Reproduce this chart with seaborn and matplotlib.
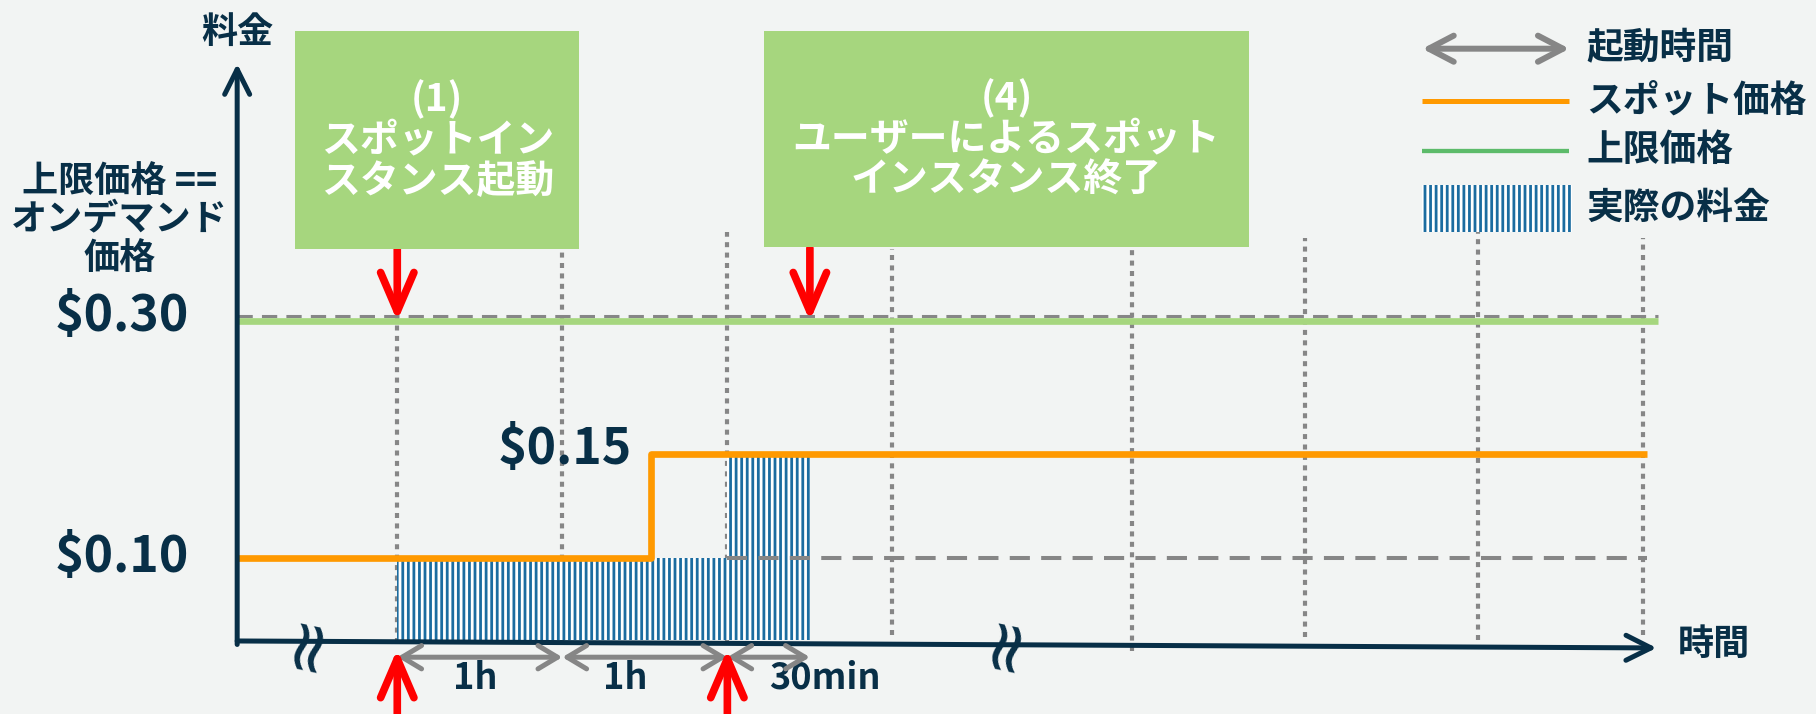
import numpy as np
import matplotlib
matplotlib.use('Agg')
import matplotlib.pyplot as plt
import matplotlib.transforms as mtransforms
from matplotlib.patches import Rectangle
import seaborn as sns

# time in hours (spot instance launch = 0), prices in $/h
spot_time = [-0.97, 1.54, 7.57]
spot_price = [0.10, 0.15, 0.15]
limit_time = [-0.97, 7.64]
limit_price = [0.30, 0.30]
bill_start = [0.0, 2.0]
bill_hours = [2.0, 0.5]
bill_price = [0.10, 0.15]
grid_times = [0, 1, 2, 3, 4.45, 5.5, 6.55, 7.55]
launch_times = [0.0, 2.0]
box_event_times = [0.0, 2.5]
span_start = [0.0, 1.0, 2.0]
span_end = [1.0, 2.0, 2.5]
span_labels = ['1h', '1h', '30min']
break_times = [-0.55, 3.68]
price_labels = ['$0.30', '$0.15', '$0.10']
box_texts = ['(1)\nスポットイン\nスタンス起動',
             '(4)\nユーザーによるスポット\nインスタンス終了']
legend_labels = ['起動時間', 'スポット価格', '上限価格', '実際の料金']

NAVY = '#082f47'
BG = '#f2f4f3'
GREY = '#868686'
ORANGE = '#ff9900'
LIGHT_GREEN = '#a6d67e'
LEG_GREEN = '#5dbb6a'
HATCH = '#1b6ca0'
RED = '#ff0000'

sns.set_theme(style='white')
plt.rcParams['font.family'] = ['Noto Sans CJK JP', 'DejaVu Sans']
plt.rcParams['font.weight'] = 'bold'
plt.rcParams['hatch.linewidth'] = 2.0

# the price axis is a schematic, not linear
price_knots = [-1.0, 0.0, 0.10, 0.15, 0.30, 1.0]
level_knots = [-710.0, 0.0, 71.0, 160.0, 275.0, 812.0]


def fwd(v):
    return np.interp(v, price_knots, level_knots)


def inv(v):
    return np.interp(v, level_knots, price_knots)


def lv(px):
    # vertical position given as pixels from top of the 616px-high layout
    return float(inv(552 - px))


fig = plt.figure(figsize=(18.16, 7.14), dpi=100, facecolor=BG)
ax = fig.add_axes([0, 0, 1, 1])
ax.set_yscale('function', functions=(fwd, inv))
ax.set_xlim(-2.407, 8.596)
ax.set_ylim(lv(616), lv(0))
ax.set_axis_off()

AXIS_X = -0.97

# vertical dotted grid
grid_tops = [215, 215, 200, 215, 210, 205, 200, 205]
grid_bottoms = [555, 555, 555, 548, 562, 550, 552, 548]
for t, top, bot in zip(grid_times, grid_tops, grid_bottoms):
    ax.plot([t, t], [lv(bot), lv(top)], color=GREY, lw=3.0,
            ls=(0, (1.2, 1.3)), zorder=1)

# actual charge
ax.bar(bill_start, bill_price, width=bill_hours, align='edge', color='white',
       edgecolor=HATCH, hatch='|||', linewidth=0, zorder=2)

# limit price and on-demand reference
sns.lineplot(x=limit_time, y=limit_price, color=LIGHT_GREEN, lw=4.8, ax=ax,
             legend=False, zorder=3, solid_capstyle='butt')
ax.plot(limit_time, limit_price, color=GREY, lw=2.2, ls=(0, (5, 3)), zorder=3,
        transform=mtransforms.offset_copy(ax.transData, fig=fig, y=5, units='dots'))
ax.plot([bill_start[1], spot_time[-1]], [bill_price[0], bill_price[0]],
        color=GREY, lw=2.9, ls=(0, (5, 2.8)), zorder=3)

# spot price
sns.lineplot(x=spot_time, y=spot_price, drawstyle='steps-post', color=ORANGE,
             lw=4.8, ax=ax, legend=False, zorder=4, solid_capstyle='butt')

# axes arrows
axis_arrow = dict(arrowstyle='->,head_length=0.9,head_width=0.45', color=NAVY,
                  lw=3.6, shrinkA=0, shrinkB=0, mutation_scale=20,
                  capstyle='round', joinstyle='round')
ax.annotate('', xy=(AXIS_X, lv(55)), xytext=(AXIS_X, lv(556)),
            arrowprops=axis_arrow, zorder=5)
ax.annotate('', xy=(7.63, lv(559)), xytext=(AXIS_X, lv(553)),
            arrowprops=axis_arrow, zorder=5)

for t in break_times:
    ax.text(t, lv(553), '≈', rotation=78, fontsize=52, ha='center',
            va='center', color=NAVY, zorder=6, family='DejaVu Sans',
            fontweight='normal')

# red event arrows
red_arrow = dict(arrowstyle='->,head_length=1.4,head_width=0.6', color=RED,
                 lw=5.5, shrinkA=0, shrinkB=0, mutation_scale=20,
                 capstyle='round', joinstyle='round')
for t in box_event_times:
    ax.annotate('', xy=(t, limit_price[0]), xytext=(t, lv(214)),
                arrowprops=red_arrow, zorder=7)
for t in launch_times:
    ax.annotate('', xy=(t, lv(560)), xytext=(t, lv(650)),
                arrowprops=red_arrow, zorder=7, annotation_clip=False)

# running time spans
span_arrow = dict(arrowstyle='<->,head_length=0.7,head_width=0.42', color=GREY,
                  lw=3.6, shrinkA=0, shrinkB=0, mutation_scale=20,
                  capstyle='round', joinstyle='round')
for s, e in zip(span_start, span_end):
    ax.annotate('', xy=(e, lv(567)), xytext=(s, lv(567)),
                arrowprops=span_arrow, zorder=6)
for x, lab in zip([0.47, 1.38, 2.59], span_labels):
    ax.text(x, lv(585), lab, fontsize=26, ha='center', va='center', color=NAVY)

# price labels
ax.text(0.0670, 0.5568, price_labels[0], fontsize=36, ha='center', va='center',
        color=NAVY, transform=ax.transAxes)
ax.text(0.3112, 0.3701, price_labels[1], fontsize=36, ha='center', va='center',
        color=NAVY, transform=ax.transAxes)
ax.text(0.0670, 0.2192, price_labels[2], fontsize=36, ha='center', va='center',
        color=NAVY, transform=ax.transAxes)
ax.text(0.0657, 0.6916, '上限価格 ==\nオンデマンド\n価格', fontsize=26,
        ha='center', va='center', color=NAVY, linespacing=1.05,
        transform=ax.transAxes)
ax.text(0.1307, 0.9545, '料金', fontsize=26, ha='center', va='center',
        color=NAVY, transform=ax.transAxes)
ax.text(0.9439, 0.0974, '時間', fontsize=26, ha='center', va='center',
        color=NAVY, transform=ax.transAxes)

# green call-out boxes
boxes = [(0.1626, 0.6510, 0.1563, 0.3052), (0.4209, 0.6542, 0.2666, 0.3019)]
for (x0, y0, w, h), txt in zip(boxes, box_texts):
    ax.add_patch(Rectangle((x0, y0), w, h, transform=ax.transAxes,
                           facecolor=LIGHT_GREEN, edgecolor='none', zorder=8))
    ax.text(x0 + w / 2, y0 + h / 2, txt, fontsize=28, ha='center', va='center',
            color='white', linespacing=1.05, transform=ax.transAxes, zorder=9)

# legend
lx0, lx1, tx = 0.7832, 0.8642, 0.8737
ax.annotate('', xy=(lx1, 0.9318), xytext=(lx0, 0.9318), xycoords='axes fraction',
            arrowprops=dict(arrowstyle='<->,head_length=0.9,head_width=0.47',
                            color=GREY, lw=4.3, shrinkA=0, shrinkB=0,
                            mutation_scale=20, capstyle='round',
                            joinstyle='round'))
ax.plot([lx0, lx1], [0.8588, 0.8588], color=ORANGE, lw=3.6,
        solid_capstyle='butt', transform=ax.transAxes)
ax.plot([lx0, lx1], [0.7890, 0.7890], color=LEG_GREEN, lw=3.1,
        solid_capstyle='butt', transform=ax.transAxes)
ax.add_patch(Rectangle((lx0, 0.6753), 0.0822, 0.0649, transform=ax.transAxes,
                       facecolor='white', edgecolor=HATCH, hatch='|||', lw=0))
for y, lab in zip([0.9318, 0.8588, 0.7890, 0.7078], legend_labels):
    ax.text(tx, y, lab, fontsize=26.5, ha='left', va='center', color=NAVY,
            transform=ax.transAxes)

plt.savefig('out.png', dpi=100, facecolor=fig.get_facecolor())
